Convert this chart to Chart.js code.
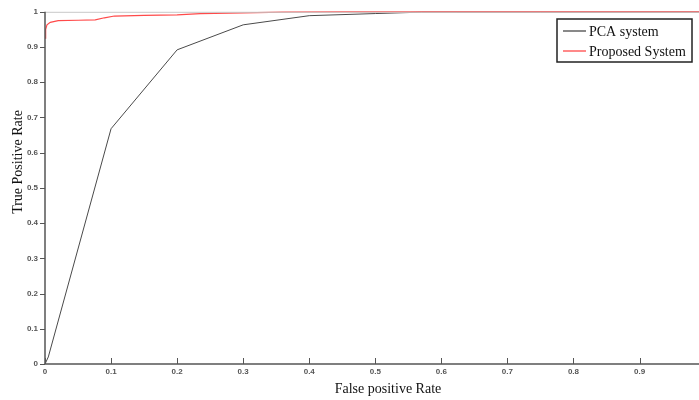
<!DOCTYPE html>
<html>
<head>
<meta charset="utf-8">
<script src="https://cdn.jsdelivr.net/npm/chart.js@4/dist/chart.umd.min.js"></script>
<style>
  html, body { margin: 0; padding: 0; background: #fff; }
  #wrap { width: 699px; height: 400px; position: relative; }
</style>
</head>
<body>
<div id="wrap"><canvas id="roc"></canvas></div>
<script>
// ROC curves
const pcaFpr = [0, 0.005, 0.1, 0.2, 0.3, 0.4, 0.5, 0.57, 0.75, 0.99];
const pcaTpr = [0, 0.02, 0.668, 0.892, 0.963, 0.989, 0.995, 0.999, 0.999, 0.999];
const propFpr = [0, 0.001, 0.003, 0.008, 0.02, 0.05, 0.076, 0.09, 0.105, 0.15, 0.2, 0.235, 0.3, 0.36, 0.45, 0.99];
const propTpr = [0.925, 0.95, 0.963, 0.97, 0.975, 0.976, 0.977, 0.983, 0.988, 0.99, 0.991, 0.995, 0.997, 0.999, 1.0, 1.0];

const xTickValues = [0, 0.1, 0.2, 0.3, 0.4, 0.5, 0.6, 0.7, 0.8, 0.9];
const yTickValues = [0, 0.1, 0.2, 0.3, 0.4, 0.5, 0.6, 0.7, 0.8, 0.9, 1];

const seriesLabels = ['PCA system', 'Proposed System'];
const seriesColors = ['#4a4a4a', '#ff4a4a'];

const toPoints = (xs, ys) => xs.map((x, i) => ({ x: x, y: ys[i] }));

const axisColor = '#555';
const tickFont = { family: 'Arial, "Liberation Sans", sans-serif', size: 8, weight: 'bold' };

// axes, inward/outward tick marks, titles and the boxed legend
const matlabLook = {
    id: 'matlabLook',
    afterDraw(chart) {
        const ctx = chart.ctx;
        const a = chart.chartArea;
        const xs = chart.scales.x, ys = chart.scales.y;
        ctx.save();

        // top box line
        ctx.strokeStyle = '#c8c8c8';
        ctx.lineWidth = 1;
        ctx.beginPath();
        ctx.moveTo(a.left, a.top + 0.5);
        ctx.lineTo(a.right, a.top + 0.5);
        ctx.stroke();

        // axis lines
        ctx.strokeStyle = axisColor;
        ctx.lineWidth = 1.5;
        ctx.beginPath();
        ctx.moveTo(a.left, a.top);
        ctx.lineTo(a.left, a.bottom);
        ctx.lineTo(a.right, a.bottom);
        ctx.stroke();

        // x ticks point up, y ticks point left
        ctx.lineWidth = 1;
        ctx.beginPath();
        xTickValues.forEach(v => {
            const px = Math.round(xs.getPixelForValue(v)) + 0.5;
            ctx.moveTo(px, a.bottom);
            ctx.lineTo(px, a.bottom - 6);
        });
        yTickValues.forEach(v => {
            const py = Math.round(ys.getPixelForValue(v)) + 0.5;
            ctx.moveTo(a.left, py);
            ctx.lineTo(a.left - 5, py);
        });
        ctx.stroke();

        // axis titles
        ctx.fillStyle = '#111';
        ctx.font = '14px "Liberation Serif", "Times New Roman", serif';
        ctx.textAlign = 'center';
        ctx.textBaseline = 'middle';
        ctx.fillText('False positive Rate', 388, 389);
        ctx.translate(18, 162);
        ctx.rotate(-Math.PI / 2);
        ctx.fillText('True Positive Rate', 0, 0);
        ctx.setTransform(1, 0, 0, 1, 0, 0);

        // legend box
        const bx = 557, by = 19, bw = 135, bh = 43;
        ctx.fillStyle = '#fff';
        ctx.fillRect(bx, by, bw, bh);
        ctx.strokeStyle = '#222';
        ctx.lineWidth = 1.5;
        ctx.strokeRect(bx, by, bw, bh);
        ctx.font = '14px "Liberation Serif", "Times New Roman", serif';
        ctx.textAlign = 'left';
        chart.data.datasets.forEach((ds, i) => {
            const ly = by + 12 + i * 20;
            ctx.strokeStyle = ds.borderColor;
            ctx.lineWidth = 1.3;
            ctx.beginPath();
            ctx.moveTo(bx + 6, ly);
            ctx.lineTo(bx + 29, ly);
            ctx.stroke();
            ctx.fillStyle = '#111';
            ctx.fillText(ds.label, bx + 32, ly + 1);
        });
        ctx.restore();
    }
};

new Chart(document.getElementById('roc').getContext('2d'), {
    type: 'line',
    data: {
        datasets: [
            { label: seriesLabels[0], data: toPoints(pcaFpr, pcaTpr), borderColor: seriesColors[0], borderWidth: 1, pointRadius: 0, tension: 0, clip: false, order: 1 },
            { label: seriesLabels[1], data: toPoints(propFpr, propTpr), borderColor: seriesColors[1], borderWidth: 1.2, pointRadius: 0, tension: 0, clip: false, order: 0 }
        ]
    },
    options: {
        responsive: true,
        maintainAspectRatio: false,
        animation: false,
        layout: { padding: { top: 11, right: 0, left: 0, bottom: 0 } },
        plugins: { legend: { display: false }, tooltip: { enabled: false } },
        scales: {
            x: {
                type: 'linear',
                min: 0,
                max: 0.99,
                afterBuildTicks: s => { s.ticks = xTickValues.map(v => ({ value: v })); },
                afterFit: s => { s.height = 36; },
                grid: { display: false, drawTicks: false },
                border: { display: false },
                ticks: { color: '#555', font: tickFont, padding: 3, maxRotation: 0, callback: v => String(v) }
            },
            y: {
                type: 'linear',
                min: 0,
                max: 1,
                afterBuildTicks: s => { s.ticks = yTickValues.map(v => ({ value: v })); },
                afterFit: s => { s.width = 45; },
                grid: { display: false, drawTicks: false },
                border: { display: false },
                ticks: { color: '#555', font: tickFont, padding: 7, callback: v => String(v) }
            }
        }
    },
    plugins: [matlabLook]
});
</script>
</body>
</html>
